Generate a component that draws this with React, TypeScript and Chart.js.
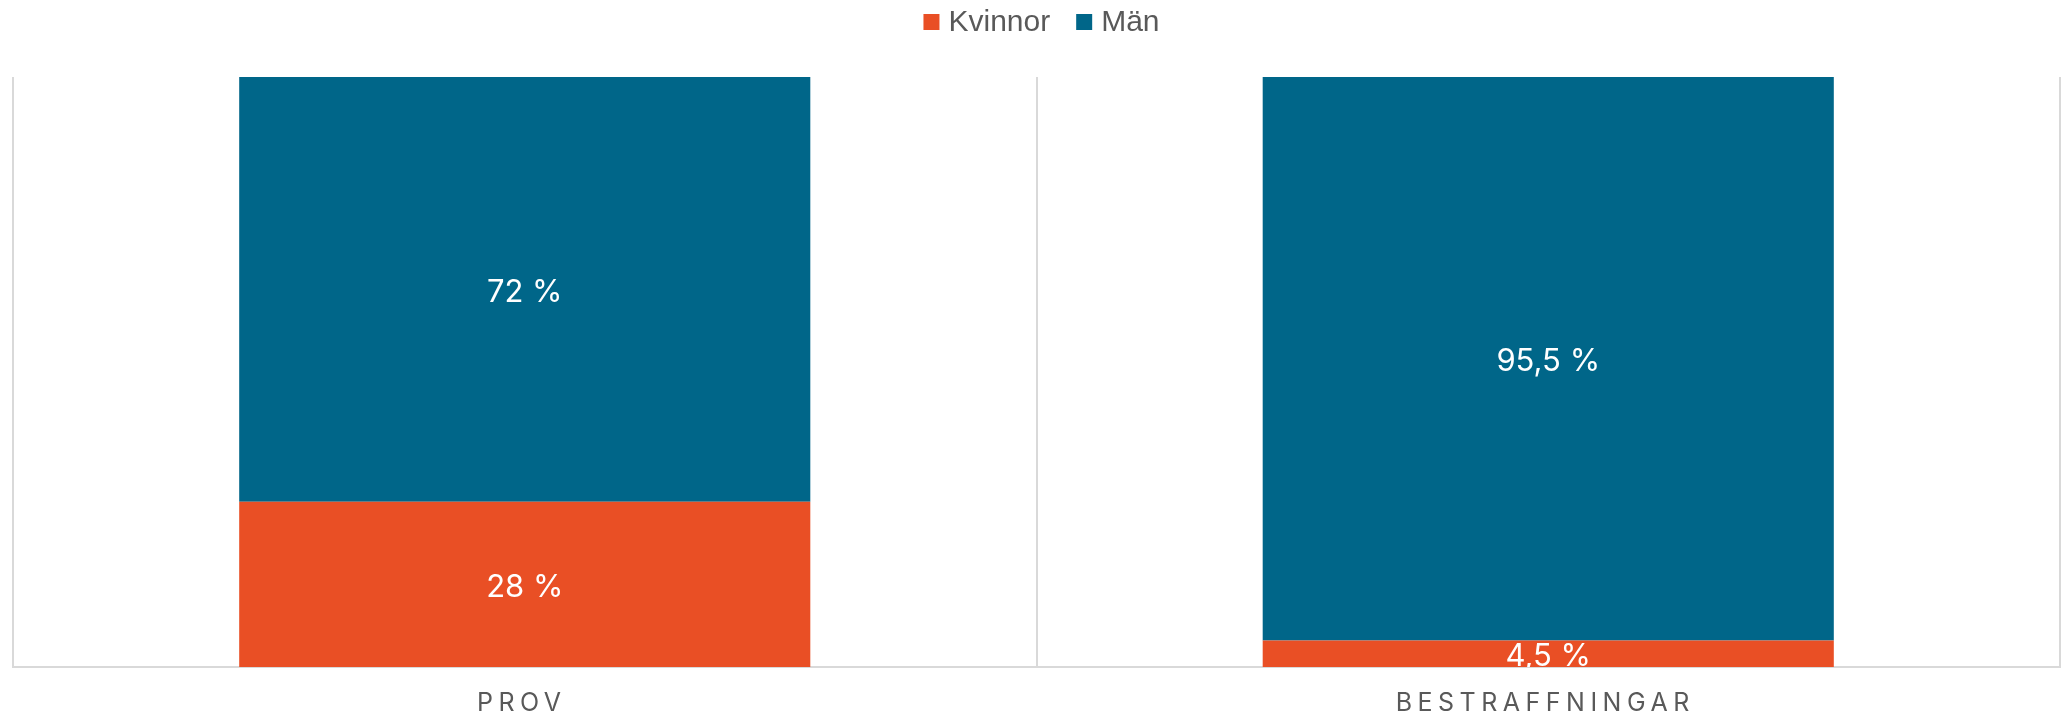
import React, { useEffect, useRef } from "react";
import { Chart, registerables } from "chart.js";

Chart.register(...registerables);

const categories = ["PROV", "BESTRAFFNINGAR"];
const kvinnor = [28, 4.5];
const man = [72, 95.5];
const seriesLabels = ["Kvinnor", "Män"];
const seriesColors = ["#E94F25", "#006689"];

const formatPct = (v: number) => String(v).replace(".", ",") + " %";

const customLegend = {
  id: "customLegend",
  afterDraw(chart: any) {
    const { ctx, chartArea } = chart;
    const ds = chart.data.datasets;
    ctx.save();
    ctx.font = "30px 'Liberation Sans', Arial, sans-serif";
    ctx.textBaseline = "alphabetic";
    ctx.textAlign = "left";
    const box = 16;
    const gapText = 9;
    const gapItem = 26;
    const widths = ds.map((d: any) => ctx.measureText(d.label).width);
    const total = widths.reduce((s: number, w: number) => s + box + gapText + w, 0) + gapItem * (ds.length - 1);
    let x = (chartArea.left + chartArea.right) / 2 + 5 - total / 2;
    ds.forEach((d: any, i: number) => {
      ctx.fillStyle = d.backgroundColor;
      ctx.fillRect(x, 14, box, box);
      x += box + gapText;
      ctx.fillStyle = "#595959";
      ctx.fillText(d.label, x, 30.5);
      x += widths[i] + gapItem;
    });
    ctx.restore();
  },
};

const barLabels = {
  id: "barLabels",
  afterDatasetsDraw(chart: any) {
    const { ctx, chartArea } = chart;
    ctx.save();
    ctx.beginPath();
    ctx.rect(chartArea.left, chartArea.top, chartArea.right - chartArea.left, chartArea.bottom - chartArea.top);
    ctx.clip();
    ctx.font = "31px Inter";
    ctx.fillStyle = "#ffffff";
    ctx.textAlign = "center";
    ctx.textBaseline = "middle";
    chart.data.datasets.forEach((ds: any, di: number) => {
      const meta = chart.getDatasetMeta(di);
      meta.data.forEach((el: any, i: number) => {
        const v = ds.data[i];
        const cy = (el.y + el.base) / 2;
        ctx.fillText(formatPct(v), el.x, cy + 3);
      });
    });
    ctx.restore();
  },
};

const xLabels = {
  id: "xLabels",
  afterDraw(chart: any) {
    const { ctx, chartArea } = chart;
    const scale = chart.scales.x;
    ctx.save();
    ctx.font = "25px Inter";
    ctx.fillStyle = "#595959";
    ctx.textAlign = "center";
    ctx.textBaseline = "alphabetic";
    (ctx as any).letterSpacing = "5.5px";
    categories.forEach((c, i) => {
      const x = scale.getPixelForTick(i);
      ctx.fillText(c, x - 3, chartArea.bottom + 44);
    });
    ctx.restore();
  },
};

export default function App() {
  const ref = useRef<HTMLCanvasElement | null>(null);
  useEffect(() => {
    if (!ref.current) return;
    const chart = new Chart(ref.current, {
      type: "bar",
      data: {
        labels: categories,
        datasets: [
          { label: seriesLabels[0], data: kvinnor, backgroundColor: seriesColors[0] },
          { label: seriesLabels[1], data: man, backgroundColor: seriesColors[1] },
        ],
      },
      options: {
        animation: false,
        responsive: false,
        devicePixelRatio: 1,
        layout: { padding: { top: 77, left: 13, right: 10, bottom: 51 } },
        datasets: { bar: { categoryPercentage: 1, barPercentage: 0.558 } } as any,
        plugins: {
          legend: { display: false },
          tooltip: { enabled: false },
        },
        scales: {
          x: {
            stacked: true,
            grid: { display: true, offset: true, color: "#d9d9d9", lineWidth: 2, drawTicks: false },
            border: { display: true, color: "#d9d9d9", width: 2 },
            ticks: { display: false },
          },
          y: {
            stacked: true,
            min: 0,
            max: 100,
            display: false,
          },
        },
      },
      plugins: [customLegend, barLabels, xLabels],
    });
    return () => chart.destroy();
  }, []);
  return (
    <div style={{ position: "fixed", left: 0, top: 0, width: 2070, height: 718, background: "#fff" }}>
      <canvas ref={ref} width={2070} height={718} style={{ width: 2070, height: 718, display: "block" }} />
    </div>
  );
}
